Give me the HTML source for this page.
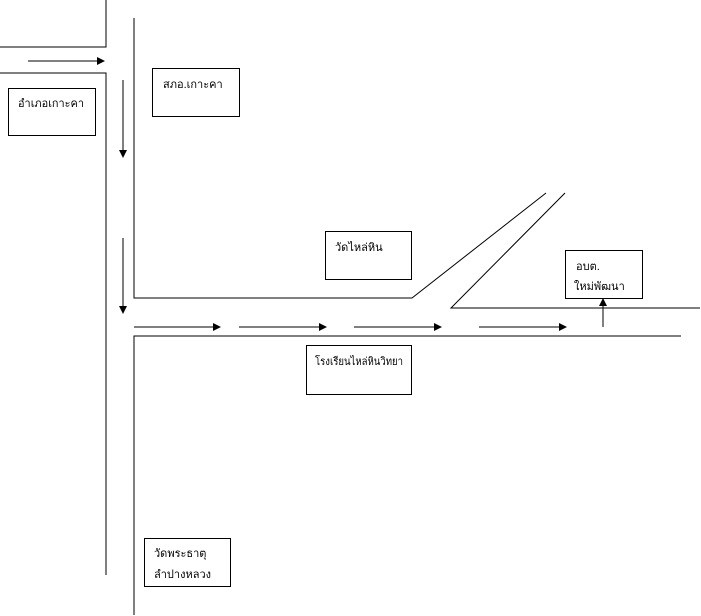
<!DOCTYPE html>
<html><head><meta charset="utf-8"><style>
body{margin:0;width:701px;height:616px;background:#fff;overflow:hidden}
svg{position:absolute;left:0;top:0}
text{font-family:"Liberation Sans","DejaVu Sans",sans-serif;font-size:11px;fill:#000}
</style></head><body>
<svg width="701" height="616" viewBox="0 0 701 616">
<defs><marker id="a" markerWidth="8" markerHeight="8" refX="7" refY="4" orient="auto" markerUnits="userSpaceOnUse"><path d="M0,0 L8,4 L0,8z" fill="#000"/></marker></defs>
<g stroke="#000" stroke-width="1" fill="none">
<polyline points="106,0 106,47 0,47"/>
<polyline points="0,73 106,73 106,575"/>
<polyline points="134,18 134,298 412,298 546,193"/>
<polyline points="565,193 451,308 700,308"/>
<polyline points="134,615 134,336 681,336"/>
<rect x="8.5" y="88.5" width="87" height="47"/>
<rect x="152.5" y="68.5" width="87" height="48"/>
<rect x="325.5" y="231.5" width="86" height="48"/>
<rect x="565.5" y="250.5" width="77" height="48"/>
<rect x="306.5" y="345.5" width="105" height="49"/>
<rect x="144.5" y="538.5" width="86" height="48"/>
</g>
<g stroke="#000" stroke-width="1" marker-end="url(#a)">
<line x1="28" y1="61" x2="104" y2="61"/>
<line x1="123" y1="80" x2="123" y2="157"/>
<line x1="123" y1="238" x2="123" y2="313"/>
<line x1="134" y1="327" x2="220" y2="327"/>
<line x1="239" y1="327" x2="326" y2="327"/>
<line x1="354" y1="327" x2="441" y2="327"/>
<line x1="479" y1="327" x2="566" y2="327"/>
<line x1="603" y1="327" x2="603" y2="299"/>
</g>
<text x="18" y="107" textLength="66" lengthAdjust="spacingAndGlyphs">อำเภอเกาะคา</text>
<text x="163" y="88">สภอ.เกาะคา</text>
<text x="335" y="251">วัดไหล่หิน</text>
<text x="576" y="270">อบต.</text>
<text x="574" y="290">ใหม่พัฒนา</text>
<text x="315" y="365" textLength="88" lengthAdjust="spacingAndGlyphs">โรงเรียนไหล่หินวิทยา</text>
<text x="154" y="557">วัดพระธาตุ</text>
<text x="154" y="578">ลำปางหลวง</text>
</svg>
</body></html>
